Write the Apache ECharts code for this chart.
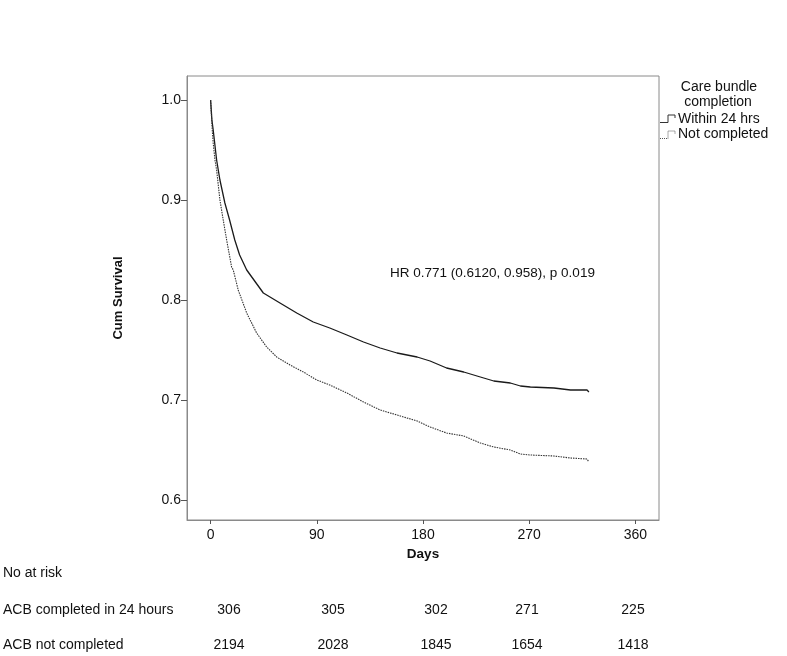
<!DOCTYPE html>
<html><head><meta charset="utf-8">
<script src="https://cdn.jsdelivr.net/npm/echarts@6/dist/echarts.min.js"></script>
<style>html,body{margin:0;padding:0;background:#fff}#c{width:787px;height:656px}</style>
</head><body><div id="c"></div>
<script>
const xTicks = [0, 90, 180, 270, 360];
const yTicks = [0.6, 0.7, 0.8, 0.9, 1.0];
const withinDays = [0,1.1,2.2,5.1,7.9,12.1,16.1,20.5,24.6,30.6,44.7,58.8,73,87,101,115.5,129.6,143.7,158,175,186,200,214.5,228.6,240,254,262.6,271,291,305,319,320.6];
const withinSurv = [1.0,0.98,0.97,0.94,0.92,0.897,0.88,0.86,0.845,0.83,0.807,0.797,0.787,0.778,0.772,0.765,0.758,0.752,0.747,0.743,0.739,0.732,0.728,0.723,0.719,0.717,0.714,0.713,0.712,0.710,0.710,0.708];
const notDays = [0,1.4,2.2,3.7,5.1,7.9,10.7,13.6,17.8,19.2,23.4,30.6,39,47.5,56,67.3,78.6,90,101,115.5,129.6,143.7,158,175,186,200,214.5,228.6,240,254,262.6,271,291,305,319,320.6];
const notSurv = [1.0,0.97,0.957,0.94,0.93,0.9,0.88,0.86,0.833,0.83,0.81,0.787,0.767,0.753,0.743,0.735,0.728,0.72,0.715,0.707,0.698,0.69,0.685,0.679,0.673,0.667,0.664,0.657,0.653,0.65,0.646,0.645,0.644,0.642,0.641,0.638];
const riskLabels = ['ACB completed in 24 hours', 'ACB not completed'];
const riskWithin = [306, 305, 302, 271, 225];
const riskNot = [2194, 2028, 1845, 1654, 1418];
const riskX = [229, 333, 436, 527, 633];

const F = "'Liberation Sans', Arial, sans-serif";
const chart = echarts.init(document.getElementById('c'), null, {renderer: 'canvas'});

const T = (x, y, text, size, align) => ({type:'text', x, y, style:{text, font: size+'px '+F, fill:'#111', align: align||'left', verticalAlign:'middle'}});
const graphics = [
  T(390, 273.5, 'HR 0.771 (0.6120, 0.958), p 0.019', 13.5),
  T(719, 87, 'Care bundle', 14, 'center'),
  T(718, 102, 'completion', 14, 'center'),
  T(678, 119, 'Within 24 hrs', 14),
  T(678, 134.5, 'Not completed', 14),
  {type:'polyline', shape:{points:[[660,122.5],[668,122.5],[668,115],[675,115],[675,118]]}, style:{stroke:'#333', lineWidth:1, fill:null}},
  {type:'polyline', shape:{points:[[660,138.5],[668,138.5],[668,131],[675,131],[675,134]]}, style:{stroke:'#555', lineWidth:1, lineDash:[1,1], fill:null}},
  T(3, 573, 'No at risk', 14),
  T(3, 610, riskLabels[0], 14),
  T(3, 645, riskLabels[1], 14)
];
riskWithin.forEach((v,i)=>graphics.push(T(riskX[i], 610, String(v), 14, 'center')));
riskNot.forEach((v,i)=>graphics.push(T(riskX[i], 645, String(v), 14, 'center')));

chart.setOption({
  animation: false,
  backgroundColor: '#fff',
  grid: {left: 187, right: 128, top: 76, bottom: 136, show: true, borderColor: '#8a8a8a', borderWidth: 1, containLabel: false},
  xAxis: {
    type: 'value', min: -20, max: 380,
    name: 'Days', nameLocation: 'middle', nameGap: 26,
    nameTextStyle: {fontFamily: F, fontWeight: 'bold', fontSize: 13.5, color: '#111'},
    axisLine: {show: true, onZero: false, lineStyle: {color: '#8a8a8a'}},
    axisTick: {show: true, length: 4, lineStyle: {color: '#555'}, customValues: xTicks},
    axisLabel: {fontFamily: F, fontSize: 14, color: '#111', margin: 8, customValues: xTicks},
    splitLine: {show: false}
  },
  yAxis: {
    type: 'value', min: 0.58, max: 1.024,
    name: 'Cum Survival', nameLocation: 'middle', nameGap: 62, nameRotate: 90,
    nameTextStyle: {fontFamily: F, fontWeight: 'bold', fontSize: 13, color: '#111'},
    axisLine: {show: true, onZero: false, lineStyle: {color: '#8a8a8a'}},
    axisTick: {show: true, length: 6, lineStyle: {color: '#555'}, customValues: yTicks},
    axisLabel: {fontFamily: F, fontSize: 14, color: '#111', margin: 6, customValues: yTicks, formatter: v => v.toFixed(1)},
    splitLine: {show: false}
  },
  series: [
    {name: 'Within 24 hrs', type: 'line', showSymbol: false,
     data: withinDays.map((d,i)=>[d, withinSurv[i]]),
     lineStyle: {color: '#1a1a1a', width: 1.3}},
    {name: 'Not completed', type: 'line', showSymbol: false,
     data: notDays.map((d,i)=>[d, notSurv[i]]),
     lineStyle: {color: '#333', width: 1.1, type: [1.5, 1]}}
  ],
  graphic: graphics
});
</script></body></html>
